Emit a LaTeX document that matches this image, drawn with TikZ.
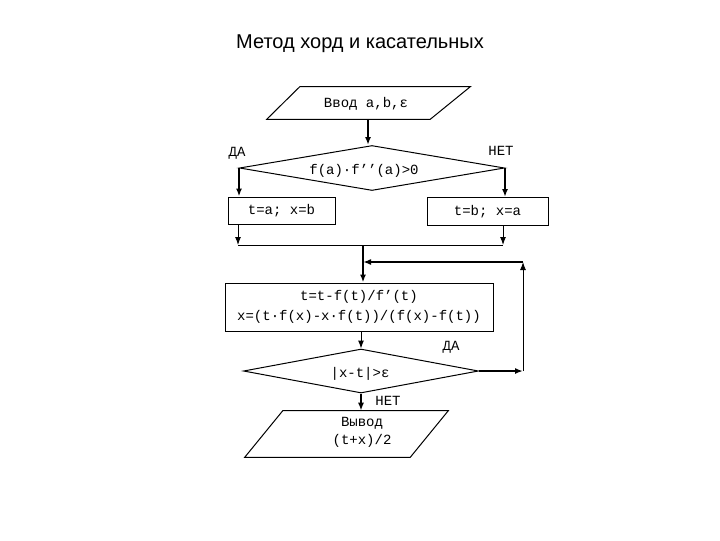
\documentclass[tikz,border=0pt]{standalone}
\usepackage{fontspec}
\setmainfont{Liberation Sans}
\newfontfamily\monof{Liberation Mono}
\usetikzlibrary{shapes.geometric,arrows.meta}
\def\pxu{0.75pt}
\begin{document}
\begin{tikzpicture}[x=0.75pt,y=-0.75pt,
  every node/.style={font=\monof\fontsize{10.5}{13.5}\selectfont, inner sep=0pt},
  boxn/.style={draw, rectangle, line width=0.75pt},
  decis/.style={draw, diamond, line width=0.75pt},
  plain/.style={draw=none, rectangle},
  wire/.style={line width=0.75pt},
  wirebold/.style={line width=1.6pt},
  arr/.style={-{Latex[length=6pt,width=4.5pt]}},
  lbl/.style={font=\monof\fontsize{10.5}{12}\selectfont}
]
\useasboundingbox (0,0) rectangle (720,540);

\node[font=\fontsize{15}{18}\selectfont] (title) at (360,44) {Метод хорд и касательных};

% input
\node[plain, minimum width=203*\pxu, minimum height=32*\pxu] (in) at (368.5,103) {};
\draw[wire] (in.south west) -- ([xshift=33*\pxu]in.north west) -- (in.north east) -- ([xshift=-40*\pxu]in.south east) -- cycle;
\node (intxt) at (366,104) {Ввод a,b,ε};

% decision 1
\node[decis, minimum width=265*\pxu, minimum height=45*\pxu] (d1) at (372,168) {};
\node (d1txt) at (364,171) {f(a)·f’’(a)>0};
\node[lbl] (da1) at (237,153) {ДА};
\node[lbl] (net1) at (501,151) {НЕТ};

% branch boxes
\node[boxn, minimum width=107*\pxu, minimum height=27*\pxu] (b1) at (281.5,210.5) {t=a; x=b};
\node[boxn, minimum width=121*\pxu, minimum height=28*\pxu] (b2) at (487.5,211.5) {t=b; x=a};

% main computation
\node[boxn, minimum width=268*\pxu, minimum height=48*\pxu, align=center,
      font=\monof\fontsize{10.5}{15}\selectfont] (main) at (359,307)
  {t=t-f(t)/f’(t)\\x=(t·f(x)-x·f(t))/(f(x)-f(t))};

% decision 2
\node[decis, minimum width=235*\pxu, minimum height=44*\pxu] (d2) at (361,371) {};
\node (d2txt) at (360,374) {|x-t|>ε};
\node[lbl] (da2) at (451,347) {ДА};
\node[lbl] (net2) at (388,401) {НЕТ};

% output
\node[plain, minimum width=203*\pxu, minimum height=46*\pxu] (out) at (346.5,434) {};
\draw[wire] (out.south west) -- ([xshift=38*\pxu]out.north west) -- (out.north east) -- ([xshift=-38*\pxu]out.south east) -- cycle;
\node[align=center] (outtxt) at (362,432) {Вывод\\(t+x)/2};

% coordinates
\coordinate (j1) at (238,245);
\coordinate (j2) at (503,245);
\coordinate (jm) at (363,245);
\coordinate (lp1) at (523,371);
\coordinate (lp2) at (523,262);
\coordinate (lp3) at (363,262);

% connectors
\draw[wirebold,arr] (in.south -| 368,0) -- (d1.north -| 368,0);
\draw[wirebold,arr] (d1.west) -- (d1.west |- b1.north);
\draw[wirebold,arr] (d1.east) -- (d1.east |- b2.north);
\draw[wire,arr] (b1.south -| j1) -- (j1);
\draw[wire,arr] (b2.south -| j2) -- (j2);
\draw[wire] (j1) -- (j2);
\draw[wirebold,arr] (jm) -- (jm |- main.north);
\draw[wire,arr] (d2.north |- main.south) -- (d2.north);
\draw[wirebold,arr] (d2.east) -- (lp1);
\draw[wire,arr] (lp1) -- (lp2);
\draw[wirebold,arr] (lp2) -- (lp3);
\draw[wirebold,arr] (d2.south) -- (d2.south |- out.north);
\end{tikzpicture}
\end{document}
